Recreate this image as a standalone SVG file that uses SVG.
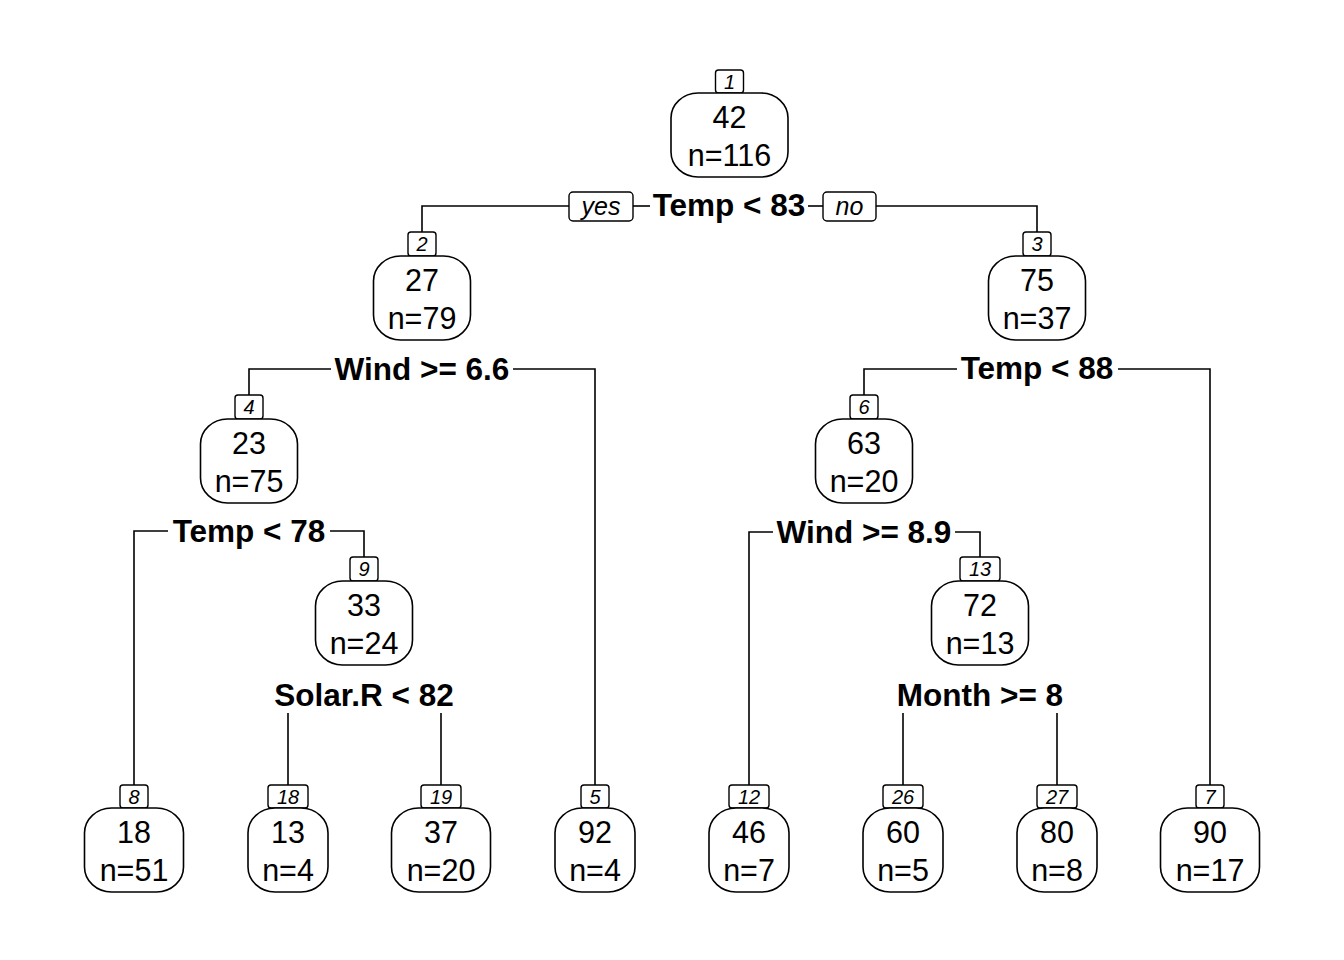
<svg xmlns="http://www.w3.org/2000/svg" width="1344" height="960" viewBox="0 0 1344 960">
<style>
.bg{fill:#ffffff}
.node{fill:#ffffff;stroke:#000000;stroke-width:1.6}
.nb{fill:#ffffff;stroke:#000000;stroke-width:1.4}
.t{font-family:"Liberation Sans",Arial,Helvetica,sans-serif;font-size:30.5px;fill:#000000;text-anchor:middle}
.n{font-family:"Liberation Sans",Arial,Helvetica,sans-serif;font-size:20px;font-style:italic;fill:#000000;text-anchor:middle}
.s{font-family:"Liberation Sans",Arial,Helvetica,sans-serif;font-size:31.5px;font-weight:bold;fill:#000000;text-anchor:middle}
.yn{font-family:"Liberation Sans",Arial,Helvetica,sans-serif;font-size:25px;font-style:italic;fill:#000000;text-anchor:middle}
.c{fill:none;stroke:#000000;stroke-width:1.6}
</style>
<rect class="bg" x="0" y="0" width="1344" height="960"/>
<g id="connectors">
<polyline class="c" points="422,232 422,206 569,206"/>
<line class="c" x1="633" y1="206" x2="650" y2="206"/>
<line class="c" x1="808" y1="206" x2="823" y2="206"/>
<polyline class="c" points="876,206 1037,206 1037,232"/>
<polyline class="c" points="249,395 249,369 331,369"/>
<polyline class="c" points="513,369 595,369 595,785"/>
<polyline class="c" points="864,395 864,369 957,369"/>
<polyline class="c" points="1118,369 1210,369 1210,785"/>
<polyline class="c" points="134,785 134,531 168,531"/>
<polyline class="c" points="330,531 364,531 364,557"/>
<polyline class="c" points="749,785 749,532 773,532"/>
<polyline class="c" points="955,532 980,532 980,557"/>
<line class="c" x1="288" y1="713" x2="288" y2="785"/>
<line class="c" x1="441" y1="713" x2="441" y2="785"/>
<line class="c" x1="903" y1="713" x2="903" y2="785"/>
<line class="c" x1="1057" y1="713" x2="1057" y2="785"/>
</g>
<g id="yesno">
<rect class="nb" x="569" y="192" width="64" height="29" rx="4"/>
<text class="yn" x="601" y="215">yes</text>
<rect class="nb" x="823" y="192" width="53" height="29" rx="4"/>
<text class="yn" x="849.5" y="215">no</text>
</g>
<g id="splits">
<text class="s" x="729" y="216">Temp &lt; 83</text>
<text class="s" x="422" y="380">Wind &gt;= 6.6</text>
<text class="s" x="1037" y="379">Temp &lt; 88</text>
<text class="s" x="249" y="542">Temp &lt; 78</text>
<text class="s" x="864" y="543">Wind &gt;= 8.9</text>
<text class="s" x="364" y="706">Solar.R &lt; 82</text>
<text class="s" x="980" y="706">Month &gt;= 8</text>
</g>
<g id="node1">
<rect class="nb" x="715.5" y="70" width="28" height="23" rx="3"/>
<text class="n" x="729.5" y="89">1</text>
<rect class="node" x="671" y="93" width="117" height="84" rx="27" ry="25"/>
<text class="t" x="729.5" y="128">42</text>
<text class="t" x="729.5" y="166">n=116</text>
</g>
<g id="node2">
<rect class="nb" x="408" y="232" width="28" height="24" rx="3"/>
<text class="n" x="422" y="251">2</text>
<rect class="node" x="373.5" y="256" width="97" height="84" rx="27" ry="25"/>
<text class="t" x="422" y="291">27</text>
<text class="t" x="422" y="329">n=79</text>
</g>
<g id="node3">
<rect class="nb" x="1023" y="232" width="28" height="24" rx="3"/>
<text class="n" x="1037" y="251">3</text>
<rect class="node" x="988.5" y="256" width="97" height="84" rx="27" ry="25"/>
<text class="t" x="1037" y="291">75</text>
<text class="t" x="1037" y="329">n=37</text>
</g>
<g id="node4">
<rect class="nb" x="235" y="395" width="28" height="24" rx="3"/>
<text class="n" x="249" y="414">4</text>
<rect class="node" x="200.5" y="419" width="97" height="84" rx="27" ry="25"/>
<text class="t" x="249" y="454">23</text>
<text class="t" x="249" y="492">n=75</text>
</g>
<g id="node6">
<rect class="nb" x="850" y="395" width="28" height="24" rx="3"/>
<text class="n" x="864" y="414">6</text>
<rect class="node" x="815.5" y="419" width="97" height="84" rx="27" ry="25"/>
<text class="t" x="864" y="454">63</text>
<text class="t" x="864" y="492">n=20</text>
</g>
<g id="node9">
<rect class="nb" x="350" y="557" width="28" height="24" rx="3"/>
<text class="n" x="364" y="576">9</text>
<rect class="node" x="315.5" y="581" width="97" height="84" rx="27" ry="25"/>
<text class="t" x="364" y="616">33</text>
<text class="t" x="364" y="654">n=24</text>
</g>
<g id="node13">
<rect class="nb" x="960" y="557" width="40" height="24" rx="3"/>
<text class="n" x="980" y="576">13</text>
<rect class="node" x="931.5" y="581" width="97" height="84" rx="27" ry="25"/>
<text class="t" x="980" y="616">72</text>
<text class="t" x="980" y="654">n=13</text>
</g>
<g id="node8">
<rect class="nb" x="120" y="785" width="28" height="23" rx="3"/>
<text class="n" x="134" y="804">8</text>
<rect class="node" x="84.5" y="808" width="99" height="84" rx="27" ry="25"/>
<text class="t" x="134" y="843">18</text>
<text class="t" x="134" y="881">n=51</text>
</g>
<g id="node18">
<rect class="nb" x="268" y="785" width="40" height="23" rx="3"/>
<text class="n" x="288" y="804">18</text>
<rect class="node" x="248" y="808" width="80" height="84" rx="27" ry="25"/>
<text class="t" x="288" y="843">13</text>
<text class="t" x="288" y="881">n=4</text>
</g>
<g id="node19">
<rect class="nb" x="421" y="785" width="40" height="23" rx="3"/>
<text class="n" x="441" y="804">19</text>
<rect class="node" x="391.5" y="808" width="99" height="84" rx="27" ry="25"/>
<text class="t" x="441" y="843">37</text>
<text class="t" x="441" y="881">n=20</text>
</g>
<g id="node5">
<rect class="nb" x="581" y="785" width="28" height="23" rx="3"/>
<text class="n" x="595" y="804">5</text>
<rect class="node" x="555" y="808" width="80" height="84" rx="27" ry="25"/>
<text class="t" x="595" y="843">92</text>
<text class="t" x="595" y="881">n=4</text>
</g>
<g id="node12">
<rect class="nb" x="729" y="785" width="40" height="23" rx="3"/>
<text class="n" x="749" y="804">12</text>
<rect class="node" x="709" y="808" width="80" height="84" rx="27" ry="25"/>
<text class="t" x="749" y="843">46</text>
<text class="t" x="749" y="881">n=7</text>
</g>
<g id="node26">
<rect class="nb" x="883" y="785" width="40" height="23" rx="3"/>
<text class="n" x="903" y="804">26</text>
<rect class="node" x="863" y="808" width="80" height="84" rx="27" ry="25"/>
<text class="t" x="903" y="843">60</text>
<text class="t" x="903" y="881">n=5</text>
</g>
<g id="node27">
<rect class="nb" x="1037" y="785" width="40" height="23" rx="3"/>
<text class="n" x="1057" y="804">27</text>
<rect class="node" x="1017" y="808" width="80" height="84" rx="27" ry="25"/>
<text class="t" x="1057" y="843">80</text>
<text class="t" x="1057" y="881">n=8</text>
</g>
<g id="node7">
<rect class="nb" x="1196" y="785" width="28" height="23" rx="3"/>
<text class="n" x="1210" y="804">7</text>
<rect class="node" x="1160.5" y="808" width="99" height="84" rx="27" ry="25"/>
<text class="t" x="1210" y="843">90</text>
<text class="t" x="1210" y="881">n=17</text>
</g>
</svg>
